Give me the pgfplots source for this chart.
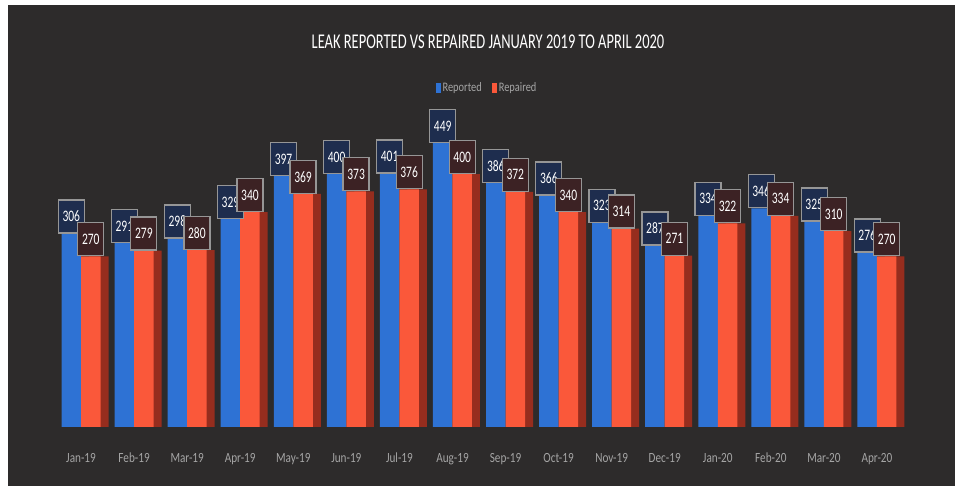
\documentclass[border=0pt]{standalone}
\usepackage{pgfplots}
\pgfplotsset{compat=1.18}
\usepackage{pgfplotstable}
\usepackage{fontspec}
\setmainfont{Carlito}
\newfontfamily\titlefont[FakeStretch=0.69]{Carlito}
\newfontfamily\labfont[FakeStretch=0.72]{Carlito}
\newfontfamily\tickfont[FakeStretch=0.8]{Carlito}
\definecolor{bgc}{RGB}{45,43,43}
\definecolor{repblue}{RGB}{46,114,212}
\definecolor{rpdred}{RGB}{250,88,58}
\definecolor{shadred}{RGB}{150,45,30}
\definecolor{lblblue}{RGB}{30,45,78}
\definecolor{lblred}{RGB}{60,34,36}
\definecolor{lblborder}{RGB}{150,150,150}
\definecolor{ticktext}{RGB}{165,165,165}
\tikzset{labelnode/.style={text=white, draw=lblborder, line width=1.2pt,
    font=\labfont\fontsize{16}{16}\selectfont, minimum width=26pt,
    minimum height=33pt, inner sep=0pt, anchor=south}}
\pgfplotstableread{
x rep rpd
0 306 270
1 291 279
2 298 280
3 329 340
4 397 369
5 400 373
6 401 376
7 449 400
8 386 372
9 366 340
10 323 314
11 287 271
12 334 322
13 346 334
14 325 310
15 276 270
}\leakdata
\begin{document}
\begin{tikzpicture}[x=1pt,y=1pt]
\fill[white] (0,0) rectangle (955,486);
\fill[bgc] (8,0) rectangle (955,481);
\node[text=white, font=\titlefont\fontsize{21}{24}\selectfont] at (488,444) {LEAK REPORTED VS REPAIRED JANUARY 2019 TO APRIL 2020};
\begin{axis}[
  at={(54.5pt,59pt)}, anchor=south west,
  scale only axis, width=849pt, height=379.2pt,
  xmin=-0.5, xmax=15.5, ymin=0, ymax=600,
  ybar=0pt, bar width=19.5pt,
  /pgf/number format/assume math mode=true,
  axis line style={draw=none},
  ytick=\empty,
  xtick={0,...,15},
  xticklabels={Jan-19,Feb-19,Mar-19,Apr-19,May-19,Jun-19,Jul-19,Aug-19,Sep-19,Oct-19,Nov-19,Dec-19,Jan-20,Feb-20,Mar-20,Apr-20},
  major tick length=0pt,
  xticklabel style={anchor=base, yshift=-36pt, text=ticktext, font=\tickfont\fontsize{14}{16}\selectfont},
  clip=false,
  legend style={at={(0.5094,0.894)}, anchor=center, draw=none, fill=none,
    text=ticktext, font=\tickfont\fontsize{13}{15}\selectfont,
    legend columns=2, /tikz/every even column/.append style={column sep=8pt}},
  legend image code/.code={\fill[#1] (0pt,-5pt) rectangle (5pt,5pt);},
]
\addplot[draw=none, fill=shadred, bar shift=17.75pt, forget plot] table[x=x, y=rpd] {\leakdata};
\addplot[draw=none, fill=repblue, bar shift=-9.75pt] table[x=x, y=rep] {\leakdata};
\addplot[draw=none, fill=rpdred, bar shift=9.75pt] table[x=x, y=rpd] {\leakdata};
\addplot[draw=none, fill=none, bar shift=-9.75pt, forget plot, nodes near coords,
  every node near coord/.append style={labelnode, fill=lblblue}] table[x=x, y=rep] {\leakdata};
\addplot[draw=none, fill=none, bar shift=9.75pt, forget plot, nodes near coords,
  every node near coord/.append style={labelnode, fill=lblred}] table[x=x, y=rpd] {\leakdata};
\legend{Reported, Repaired}
\end{axis}
\pgfresetboundingbox
\path[use as bounding box] (0,0) rectangle (955,486);
\end{tikzpicture}
\end{document}
